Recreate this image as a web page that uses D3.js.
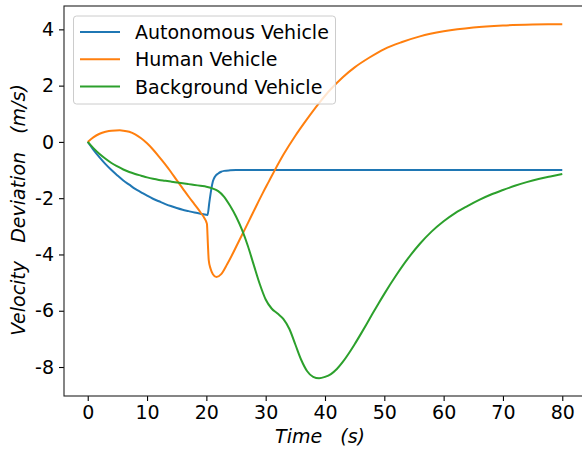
<!DOCTYPE html>
<html>
<head>
<meta charset="utf-8">
<script src="https://cdn.jsdelivr.net/npm/d3@7"></script>
<style>
  body { margin: 0; background: #fff; }
  svg { display: block; font-family: "DejaVu Sans", sans-serif; }
</style>
</head>
<body>
<svg id="chart" width="582" height="451"></svg>
<script>
// series: [time (s), velocity deviation (m/s)]
const autonomous = [
  [0, 0], [1, -0.29], [2, -0.55], [3, -0.79], [4, -1.0], [5, -1.19], [6, -1.37],
  [7, -1.52], [8, -1.67], [9, -1.79], [10, -1.91], [11, -2.02], [12, -2.11],
  [13, -2.2], [14, -2.28], [15, -2.35], [16, -2.41], [17, -2.46], [18, -2.51],
  [19, -2.55], [20, -2.59], [20.2, -2.6], [20.5, -2.15], [20.8, -1.72],
  [21.1, -1.4], [21.5, -1.22], [22, -1.12], [22.5, -1.06], [23, -1.03],
  [24, -1.01], [25, -1.0], [30, -1.0], [40, -1.0], [50, -1.0], [60, -1.0],
  [70, -1.0], [80, -1.0]
];
const human = [
  [0, 0], [1, 0.17], [2, 0.29], [3, 0.36], [4, 0.4], [5.4, 0.41], [6, 0.4],
  [7, 0.36], [8, 0.27], [9, 0.13], [10, -0.05], [11, -0.27], [12, -0.52],
  [13, -0.78], [14, -1.06], [15, -1.36], [16, -1.65], [17, -1.94], [18, -2.22],
  [19, -2.5], [19.7, -2.72], [20, -2.85], [20.1, -2.92], [20.25, -3.6],
  [20.4, -4.2], [20.7, -4.5], [21.1, -4.7], [21.7, -4.8], [22.5, -4.7],
  [23.5, -4.35], [24.5, -3.95], [25.5, -3.52], [26.5, -3.1], [27.5, -2.67],
  [28.5, -2.24], [29.5, -1.82], [30.5, -1.42], [31.5, -1.02], [33, -0.45],
  [35, 0.22], [37, 0.82], [39, 1.38], [41, 1.88], [43, 2.3], [45, 2.65],
  [47.5, 3.0], [50, 3.3], [53, 3.55], [56, 3.75], [60, 3.93], [65, 4.07],
  [70, 4.14], [75, 4.17], [80, 4.18]
];
const background = [
  [0, 0], [1, -0.23], [2, -0.43], [3, -0.6], [4, -0.75], [5, -0.87], [6, -0.98],
  [7, -1.07], [8, -1.14], [9, -1.2], [10, -1.26], [11, -1.31], [12, -1.35],
  [13, -1.38], [14, -1.41], [15, -1.44], [16, -1.47], [17, -1.5], [18, -1.53],
  [19, -1.56], [20, -1.59], [21, -1.65], [22, -1.75], [23, -1.95], [24, -2.27],
  [25, -2.65], [26, -3.12], [27, -3.7], [28, -4.38], [29, -5.05], [30, -5.6],
  [31, -5.92], [32, -6.1], [33, -6.3], [34, -6.65], [35, -7.2], [36, -7.75],
  [37, -8.15], [38, -8.35], [39, -8.4], [40, -8.35], [41, -8.25], [42, -8.07],
  [43, -7.82], [44, -7.52], [45, -7.19], [46, -6.84], [47, -6.48], [48, -6.11],
  [49, -5.75], [50, -5.4], [52, -4.74], [54, -4.14], [56, -3.62], [58, -3.18],
  [60, -2.82], [62, -2.52], [64, -2.28], [66, -2.06], [68, -1.87], [70, -1.71],
  [72, -1.56], [74, -1.43], [76, -1.32], [78, -1.23], [80, -1.14]
];

const seriesNames = ["Autonomous Vehicle", "Human Vehicle", "Background Vehicle"];
const seriesColors = ["#1f77b4", "#ff7f0e", "#2ca02c"];
const xTicks = [0, 10, 20, 30, 40, 50, 60, 70, 80];
const yTicks = [-8, -6, -4, -2, 0, 2, 4];

const svg = d3.select("#chart");
const mLeft = 64, mRight = 586, mTop = 6, mBottom = 396;
const fontSize = "19px";

const x = d3.scaleLinear().domain([-4, 84]).range([mLeft, mRight]);
const y = d3.scaleLinear().domain([-9.03, 4.83]).range([mBottom, mTop]);

// lines
const line = d3.line()
  .x(d => x(d[0]))
  .y(d => y(d[1]))
  .curve(d3.curveMonotoneX);

[autonomous, human, background].forEach((data, i) => {
  svg.append("path")
    .datum(data)
    .attr("d", line)
    .style("fill", "none")
    .style("stroke", seriesColors[i])
    .style("stroke-width", 2)
    .style("stroke-linejoin", "round");
});

// axes
const xAxis = svg.append("g")
  .attr("transform", `translate(0,${mBottom})`)
  .call(d3.axisBottom(x).tickValues(xTicks).tickFormat(d => String(d)).tickSizeOuter(0).tickSize(5).tickPadding(5));
const yAxis = svg.append("g")
  .attr("transform", `translate(${mLeft},0)`)
  .call(d3.axisLeft(y).tickValues(yTicks).tickFormat(d => String(d)).tickSizeOuter(0).tickSize(5).tickPadding(5));

[xAxis, yAxis].forEach(g => {
  g.select(".domain").remove();
  g.selectAll("line").style("stroke", "#000").style("stroke-width", 1.1);
  g.selectAll("text")
    .style("font-family", "DejaVu Sans")
    .style("font-size", fontSize)
    .style("fill", "#000");
});

// frame
svg.append("rect")
  .attr("x", mLeft).attr("y", mTop)
  .attr("width", mRight - mLeft).attr("height", mBottom - mTop)
  .style("fill", "none")
  .style("stroke", "#222")
  .style("stroke-width", 1.1);

// axis titles
svg.append("text")
  .attr("x", 320).attr("y", 443)
  .attr("text-anchor", "middle")
  .style("font-size", fontSize)
  .style("font-style", "italic")
  .style("white-space", "pre")
  .text("Time   (s)");

svg.append("text")
  .attr("transform", "translate(25,210) rotate(-90)")
  .attr("text-anchor", "middle")
  .style("font-size", fontSize)
  .style("font-style", "italic")
  .style("white-space", "pre")
  .text("Velocity   Deviation   (m/s)");

// legend
const legend = svg.append("g");
legend.append("rect")
  .attr("x", 73.5).attr("y", 16)
  .attr("width", 262).attr("height", 88)
  .attr("rx", 3).attr("ry", 3)
  .style("fill", "#fff")
  .style("fill-opacity", 0.8)
  .style("stroke", "#ccc")
  .style("stroke-width", 1);

seriesNames.forEach((name, i) => {
  const cy = 32 + i * 27.3;
  legend.append("line")
    .attr("x1", 80).attr("x2", 120)
    .attr("y1", cy).attr("y2", cy)
    .style("stroke", seriesColors[i])
    .style("stroke-width", 2);
  legend.append("text")
    .attr("x", 135).attr("y", cy + 7)
    .style("font-size", fontSize)
    .style("fill", "#000")
    .text(name);
});
</script>
</body>
</html>
